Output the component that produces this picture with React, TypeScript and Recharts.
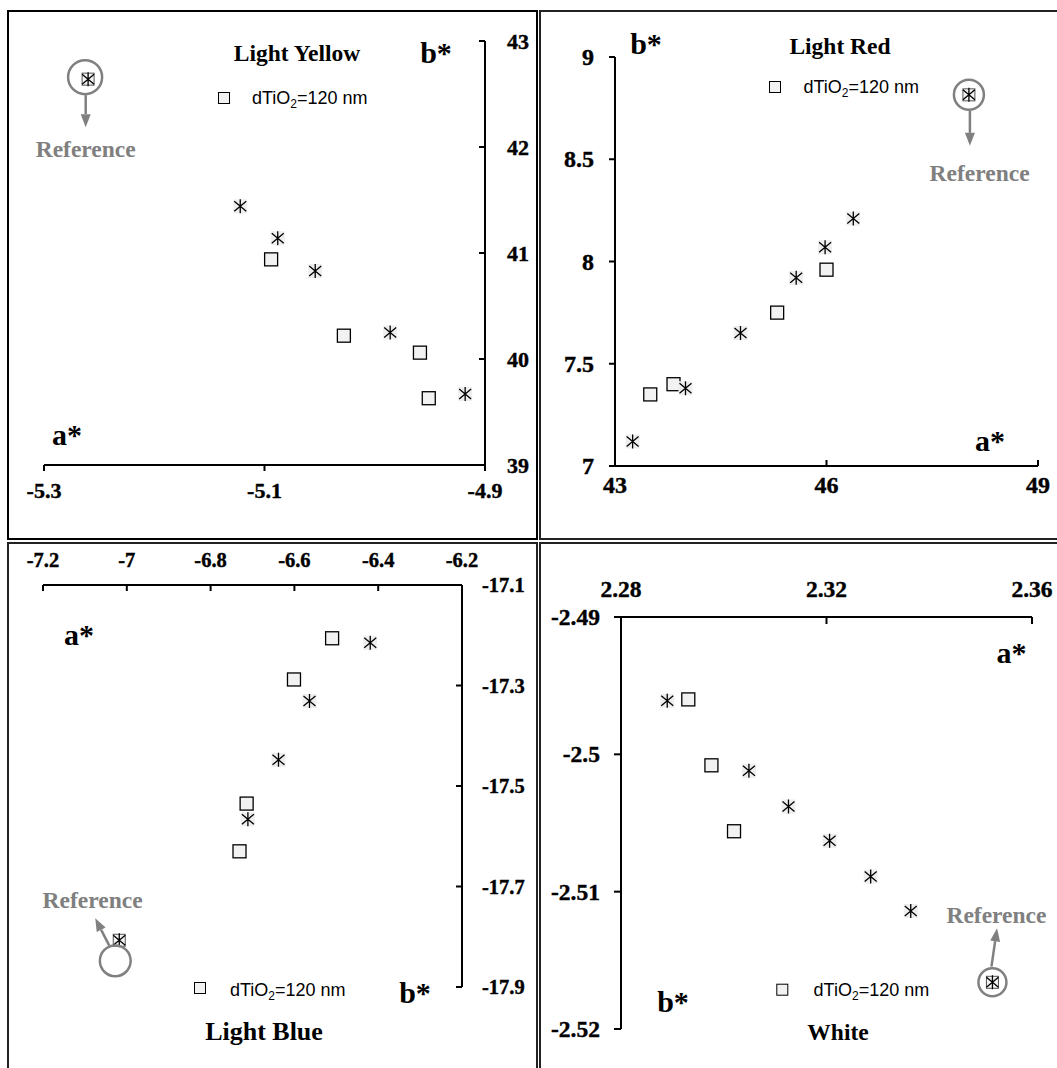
import React from 'react';
import { ScatterChart, Scatter, XAxis, YAxis } from 'recharts';

type Pt = { a: number; b: number };

// Light Yellow
const yellowSquares: Pt[] = [
  { a: -5.094, b: 40.94 },
  { a: -5.028, b: 40.22 },
  { a: -4.959, b: 40.06 },
  { a: -4.951, b: 39.63 },
];
const yellowStars: Pt[] = [
  { a: -5.122, b: 41.44 },
  { a: -5.088, b: 41.14 },
  { a: -5.054, b: 40.83 },
  { a: -4.986, b: 40.25 },
  { a: -4.918, b: 39.67 },
];
const yellowRef: Pt[] = [{ a: -5.26, b: 42.64 }];
const yellowXTicks = [-5.3, -5.1, -4.9];
const yellowYTicks = [39, 40, 41, 42, 43];

// Light Red
const redSquares: Pt[] = [
  { a: 43.5, b: 7.35 },
  { a: 43.83, b: 7.4 },
  { a: 45.3, b: 7.75 },
  { a: 46.0, b: 7.96 },
];
const redStars: Pt[] = [
  { a: 43.25, b: 7.12 },
  { a: 44.0, b: 7.38 },
  { a: 44.78, b: 7.65 },
  { a: 45.57, b: 7.92 },
  { a: 45.98, b: 8.07 },
  { a: 46.38, b: 8.21 },
];
const redRef: Pt[] = [{ a: 48.02, b: 8.815 }];
const redXTicks = [43, 46, 49];
const redYTicks = [7, 7.5, 8, 8.5, 9];

// Light Blue
const blueSquares: Pt[] = [
  { a: -6.51, b: -17.206 },
  { a: -6.601, b: -17.288 },
  { a: -6.714, b: -17.535 },
  { a: -6.731, b: -17.63 },
];
const blueStars: Pt[] = [
  { a: -6.419, b: -17.215 },
  { a: -6.564, b: -17.331 },
  { a: -6.638, b: -17.448 },
  { a: -6.711, b: -17.566 },
];
const blueRef: Pt[] = [{ a: -7.018, b: -17.807 }];
const blueXTicks = [-7.2, -7, -6.8, -6.6, -6.4, -6.2];
const blueYTicks = [-17.9, -17.7, -17.5, -17.3, -17.1];

// White
const whiteSquares: Pt[] = [
  { a: 2.2931, b: -2.496 },
  { a: 2.2976, b: -2.5008 },
  { a: 2.302, b: -2.5056 },
];
const whiteStars: Pt[] = [
  { a: 2.289, b: -2.4961 },
  { a: 2.3049, b: -2.5012 },
  { a: 2.3126, b: -2.5038 },
  { a: 2.3206, b: -2.5063 },
  { a: 2.3286, b: -2.5089 },
  { a: 2.3364, b: -2.5114 },
];
const whiteRef: Pt[] = [{ a: 2.3523, b: -2.5166 }];
const whiteXTicks = [2.28, 2.32, 2.36];
const whiteYTicks = [-2.52, -2.51, -2.5, -2.49];

const SERIF = '"Liberation Serif", "Times New Roman", serif';
const SANS = '"Liberation Sans", Arial, sans-serif';
const GREY = '#808080';
const AX = 10;

const starPath = (cx: number, cy: number) =>
  `M${cx - 6},${cy - 5}L${cx + 6},${cy + 5}M${cx - 6},${cy + 5}L${cx + 6},${cy - 5}M${cx},${cy - 7}L${cx},${cy + 7}`;

const SquareMark = (props: any) => {
  const { cx, cy } = props;
  if (cx == null || cy == null) return null;
  return <rect x={cx - 6.5} y={cy - 6.5} width={13} height={13} fill="#f2f2f2" stroke="#000" strokeWidth={1.3} />;
};

const StarMark = (props: any) => {
  const { cx, cy } = props;
  if (cx == null || cy == null) return null;
  return (
    <g>
      <rect x={cx - 7} y={cy - 7} width={14} height={14} fill="#eeeeee" />
      <path d={starPath(cx, cy)} stroke="#000" strokeWidth={1.3} fill="none" />
    </g>
  );
};

interface RefCfg {
  ccx: number;
  ccy: number;
  r: number;
  ax1: number;
  ay1: number;
  ax2: number;
  ay2: number;
  tx: number;
  ty: number;
}

const makeRefMark = (o: RefCfg) => (props: any) => {
  const { cx, cy } = props;
  if (cx == null || cy == null) return null;
  const x1 = cx + o.ax1;
  const y1 = cy + o.ay1;
  const x2 = cx + o.ax2;
  const y2 = cy + o.ay2;
  const len = Math.hypot(x2 - x1, y2 - y1);
  const ux = (x2 - x1) / len;
  const uy = (y2 - y1) / len;
  const hb = 13;
  const hw = 5;
  const bx = x2 - ux * hb;
  const by = y2 - uy * hb;
  return (
    <g>
      <rect x={cx - 6} y={cy - 6} width={12} height={12} fill="#f2f2f2" stroke="#555" strokeWidth={1} />
      <path d={starPath(cx, cy)} stroke="#000" strokeWidth={1.3} fill="none" />
      <circle cx={cx + o.ccx} cy={cy + o.ccy} r={o.r} fill="none" stroke={GREY} strokeWidth={2.5} />
      <line x1={x1} y1={y1} x2={bx} y2={by} stroke={GREY} strokeWidth={2.5} />
      <polygon
        points={`${x2},${y2} ${bx - uy * hw},${by + ux * hw} ${bx + uy * hw},${by - ux * hw}`}
        fill={GREY}
      />
      <text
        x={cx + o.tx}
        y={cy + o.ty}
        textAnchor="middle"
        fontFamily={SERIF}
        fontWeight="bold"
        fontSize={23.5}
        fill={GREY}
      >
        Reference
      </text>
    </g>
  );
};

interface TickCfg {
  lx: number;
  ly: number;
  dx: number;
  dy: number;
  anchor: 'start' | 'middle' | 'end';
  size: number;
}

const makeTick = (c: TickCfg) => (props: any) => {
  const { x, y, payload } = props;
  return (
    <g>
      <line x1={x} y1={y} x2={x + c.lx} y2={y + c.ly} stroke="#000" strokeWidth={2} />
      <text
        x={x + c.dx}
        y={y + c.dy}
        textAnchor={c.anchor}
        fontFamily={SERIF}
        fontWeight="bold"
        fontSize={c.size}
        fill="#000"
        stroke="#000"
        strokeWidth={0.4}
      >
        {String(payload.value)}
      </text>
    </g>
  );
};

interface Label {
  x: number;
  y: number;
  text: string;
  size: number;
}

interface PanelProps {
  frame: { left: number; top: number; width: number; height: number };
  plot: { x0: number; x1: number; y0: number; y1: number };
  xDomain: [number, number];
  yDomain: [number, number];
  xTicks: number[];
  yTicks: number[];
  xOrient: 'top' | 'bottom';
  yOrient: 'left' | 'right';
  xTick: TickCfg;
  yTick: TickCfg;
  squares: Pt[];
  stars: Pt[];
  reference: Pt[];
  refCfg: RefCfg;
  labels: Label[];
  legend: { sx: number; sy: number; tx: number; ty: number };
}

const Panel: React.FC<PanelProps> = (p) => {
  const { frame, plot } = p;
  const top = plot.y0 - frame.top - (p.xOrient === 'top' ? AX : 0);
  const bottom = frame.height - (plot.y1 - frame.top) - (p.xOrient === 'bottom' ? AX : 0);
  const left = plot.x0 - frame.left - (p.yOrient === 'left' ? AX : 0);
  const right = frame.width - (plot.x1 - frame.left) - (p.yOrient === 'right' ? AX : 0);
  const ox = frame.left;
  const oy = frame.top;
  const RefMark = makeRefMark(p.refCfg);

  return (
    <div style={{ position: 'absolute', left: frame.left, top: frame.top }}>
      <ScatterChart width={frame.width} height={frame.height} margin={{ top, right, bottom, left }}>
        <XAxis
          type="number"
          dataKey="a"
          domain={p.xDomain}
          ticks={p.xTicks}
          interval={0}
          orientation={p.xOrient}
          height={AX}
          tickLine={false}
          tickSize={0}
          tickMargin={0}
          axisLine={{ stroke: '#000', strokeWidth: 2 }}
          tick={makeTick(p.xTick)}
        />
        <YAxis
          type="number"
          dataKey="b"
          domain={p.yDomain}
          ticks={p.yTicks}
          interval={0}
          orientation={p.yOrient}
          width={AX}
          tickLine={false}
          tickSize={0}
          tickMargin={0}
          axisLine={{ stroke: '#000', strokeWidth: 2 }}
          tick={makeTick(p.yTick)}
        />
        <Scatter name="dTiO2=120 nm" data={p.squares} shape={SquareMark} isAnimationActive={false} />
        <Scatter name="stars" data={p.stars} shape={StarMark} isAnimationActive={false} />
        <Scatter name="Reference" data={p.reference} shape={RefMark} isAnimationActive={false} />
        {p.labels.map((l) => (
          <text
            key={l.text}
            x={l.x - ox}
            y={l.y - oy}
            textAnchor="middle"
            fontFamily={SERIF}
            fontWeight="bold"
            fontSize={l.size}
            fill="#000"
          >
            {l.text}
          </text>
        ))}
        <g>
          <rect
            x={p.legend.sx - ox - 5.5}
            y={p.legend.sy - oy - 5.5}
            width={11}
            height={11}
            fill="#f2f2f2"
            stroke="#000"
            strokeWidth={1}
          />
          <text x={p.legend.tx - ox} y={p.legend.ty - oy} fontFamily={SANS} fontSize={18} fill="#000">
            dTiO
            <tspan fontSize={12} dy={4}>
              2
            </tspan>
            <tspan dy={-4}>=120 nm</tspan>
          </text>
        </g>
      </ScatterChart>
    </div>
  );
};

const frameStyle = (l: number, t: number, w: number, h: number, bw: number, c: string): React.CSSProperties => ({
  position: 'absolute',
  left: l,
  top: t,
  width: w,
  height: h,
  border: `${bw}px solid ${c}`,
  boxSizing: 'border-box',
});

export default function App() {
  return (
    <div
      style={{
        position: 'absolute',
        left: 0,
        top: 0,
        width: 1057,
        height: 1068,
        overflow: 'hidden',
        background: '#fff',
      }}
    >
      <div style={frameStyle(7, 10, 531, 530, 2, '#000')} />
      <div style={frameStyle(539, 10, 540, 530, 2, '#222')} />
      <div style={frameStyle(7, 542, 531, 540, 2, '#222')} />
      <div style={frameStyle(539, 542, 540, 540, 2, '#222')} />

      <Panel
        frame={{ left: 8, top: 11, width: 529, height: 527 }}
        plot={{ x0: 44, x1: 485, y0: 41, y1: 465 }}
        xDomain={[-5.3, -4.9]}
        yDomain={[39, 43]}
        xTicks={yellowXTicks}
        yTicks={yellowYTicks}
        xOrient="bottom"
        yOrient="right"
        xTick={{ lx: 0, ly: 6, dx: 0, dy: 33, anchor: 'middle', size: 22 }}
        yTick={{ lx: -6, ly: 0, dx: 22, dy: 8, anchor: 'start', size: 22 }}
        squares={yellowSquares}
        stars={yellowStars}
        reference={yellowRef}
        refCfg={{ ccx: -3, ccy: -2, r: 17, ax1: -2.4, ay1: 16, ax2: -2.4, ay2: 48, tx: -2.4, ty: 78 }}
        labels={[
          { x: 297, y: 61, text: 'Light Yellow', size: 23.5 },
          { x: 436, y: 63, text: 'b*', size: 30 },
          { x: 67, y: 445, text: 'a*', size: 30 },
        ]}
        legend={{ sx: 224, sy: 98, tx: 252, ty: 104 }}
      />

      <Panel
        frame={{ left: 541, top: 11, width: 530, height: 527 }}
        plot={{ x0: 615, x1: 1038, y0: 57, y1: 466 }}
        xDomain={[43, 49]}
        yDomain={[7, 9]}
        xTicks={redXTicks}
        yTicks={redYTicks}
        xOrient="bottom"
        yOrient="left"
        xTick={{ lx: 0, ly: -6, dx: 0, dy: 27, anchor: 'middle', size: 24 }}
        yTick={{ lx: -6, ly: 0, dx: -21, dy: 8, anchor: 'end', size: 24 }}
        squares={redSquares}
        stars={redStars}
        reference={redRef}
        refCfg={{ ccx: 0, ccy: 0, r: 15, ax1: 1, ay1: 16, ax2: 1, ay2: 51, tx: 10.7, ty: 86 }}
        labels={[
          { x: 840, y: 54, text: 'Light Red', size: 23.5 },
          { x: 646, y: 54, text: 'b*', size: 30 },
          { x: 990, y: 451, text: 'a*', size: 30 },
        ]}
        legend={{ sx: 775, sy: 87, tx: 803.5, ty: 93 }}
      />

      <Panel
        frame={{ left: 8, top: 544, width: 529, height: 524 }}
        plot={{ x0: 43, x1: 462, y0: 585, y1: 987 }}
        xDomain={[-7.2, -6.2]}
        yDomain={[-17.9, -17.1]}
        xTicks={blueXTicks}
        yTicks={blueYTicks}
        xOrient="top"
        yOrient="right"
        xTick={{ lx: 0, ly: 6, dx: 0, dy: -18, anchor: 'middle', size: 20.5 }}
        yTick={{ lx: -6, ly: 0, dx: 20, dy: 7, anchor: 'start', size: 20.5 }}
        squares={blueSquares}
        stars={blueStars}
        reference={blueRef}
        refCfg={{ ccx: -4, ccy: 20.6, r: 15.4, ax1: -10, ay1: 5.4, ax2: -24, ay2: -22, tx: -26.7, ty: -32 }}
        labels={[
          { x: 264, y: 1039.5, text: 'Light Blue', size: 26 },
          { x: 415, y: 1003, text: 'b*', size: 30 },
          { x: 79, y: 645, text: 'a*', size: 30 },
        ]}
        legend={{ sx: 200, sy: 988, tx: 230, ty: 995.8 }}
      />

      <Panel
        frame={{ left: 541, top: 544, width: 530, height: 524 }}
        plot={{ x0: 621, x1: 1032, y0: 617, y1: 1029 }}
        xDomain={[2.28, 2.36]}
        yDomain={[-2.52, -2.49]}
        xTicks={whiteXTicks}
        yTicks={whiteYTicks}
        xOrient="top"
        yOrient="left"
        xTick={{ lx: 0, ly: 7, dx: 0, dy: -20, anchor: 'middle', size: 23.5 }}
        yTick={{ lx: -7, ly: 0, dx: -21, dy: 8, anchor: 'end', size: 23.5 }}
        squares={whiteSquares}
        stars={whiteStars}
        reference={whiteRef}
        refCfg={{ ccx: 0, ccy: 0, r: 14, ax1: -1, ay1: -15.7, ax2: 4.6, ay2: -54, tx: 4, ty: -59 }}
        labels={[
          { x: 838, y: 1040, text: 'White', size: 23.5 },
          { x: 673, y: 1012, text: 'b*', size: 30 },
          { x: 1011.5, y: 663, text: 'a*', size: 30 },
        ]}
        legend={{ sx: 782.3, sy: 989.7, tx: 813.6, ty: 995.8 }}
      />
    </div>
  );
}
